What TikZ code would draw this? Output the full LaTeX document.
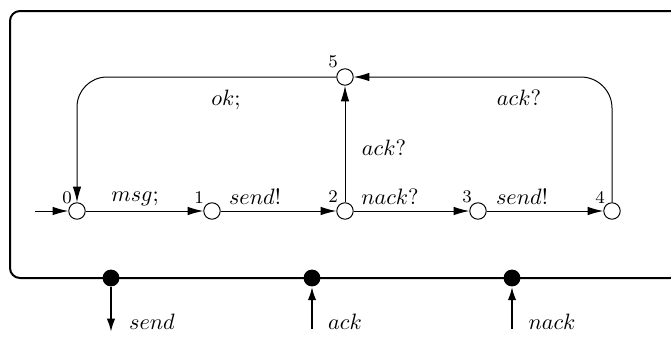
\documentclass[tikz,border=0pt]{standalone}
\usetikzlibrary{arrows.meta}
\begin{document}
\begin{tikzpicture}[x=0.45pt,y=-0.45pt,>={Latex[length=7pt,width=3.8pt]},line join=bevel,
  loc/.style={circle,draw,line width=0.45pt,inner sep=0pt,minimum size=7.4pt},
  port/.style={circle,fill,inner sep=0pt,minimum size=7.6pt},
  num/.style={draw=none,font=\footnotesize,inner sep=0pt},
  lbl/.style={draw=none,inner sep=0pt},
  edge/.style={line width=0.45pt},
  chan/.style={line width=0.9pt,>={Latex[length=6pt,width=3.8pt]}}]
\useasboundingbox (0,0) rectangle (671,339);
%%
\draw [line width=0.9pt,rounded corners=4.5pt] (10,11) rectangle (680,278);
%%
\node (loc0) at (77,211) [loc] {};
  \node (loc1) at (212,211) [loc] {};
  \node (loc2) at (345,211) [loc] {};
  \node (loc3) at (478,211) [loc] {};
  \node (loc4) at (612,211) [loc] {};
  \node (loc5) at (345,77) [loc] {};
  \coordinate (init) at (35,211);
  \node (n0) at (67,198) [num] {0};
  \node (n1) at (199,198) [num] {1};
  \node (n2) at (333,197) [num] {2};
  \node (n3) at (467,197) [num] {3};
  \node (n4) at (600,197) [num] {4};
  \node (n5) at (333,62) [num] {5};
  \node (msg) at (135,199) [lbl] {$msg;$};
  \node (send1) at (255,197) [lbl] {$send!$};
  \node (nack1) at (390,197) [lbl] {$nack?$};
  \node (send2) at (522,197) [lbl] {$send!$};
  \node (ack1) at (384,148) [lbl] {$ack?$};
  \node (ack2) at (519,98) [lbl] {$ack?$};
  \node (ok) at (226,100) [lbl] {$ok;$};
  \draw [edge,->] (init) -- (loc0);
  \draw [edge,->] (loc0) -- (loc1);
  \draw [edge,->] (loc1) -- (loc2);
  \draw [edge,->] (loc2) -- (loc3);
  \draw [edge,->] (loc3) -- (loc4);
  \draw [edge,->] (loc2) -- (loc5);
  \draw [edge,->,rounded corners=14pt] (loc4) |- (loc5);
  \draw [edge,->,rounded corners=13.5pt] (loc5) -| (loc0);
%%
\node (psend) at (111,278) [port] {};
  \node (pack) at (312,278) [port] {};
  \node (pnack) at (512,278) [port] {};
  \coordinate (esend) at (111,332);
  \coordinate (eack) at (312,329);
  \coordinate (enack) at (512,329);
  \node (lsend) at (152,322) [lbl] {$send$};
  \node (lack) at (345,322) [lbl] {$ack$};
  \node (lnack) at (552,322) [lbl] {$nack$};
  \draw [chan,->] (psend) -- (esend);
  \draw [chan,->] (eack) -- (pack);
  \draw [chan,->] (enack) -- (pnack);
%
\end{tikzpicture}
\end{document}
